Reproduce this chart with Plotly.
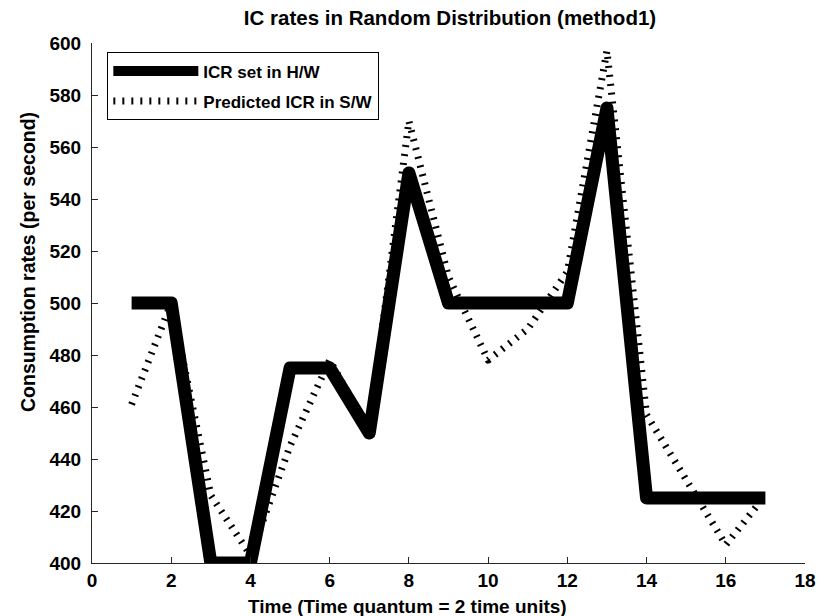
import plotly.graph_objects as go

# ---- data ----
time_q = [1, 2, 3, 4, 5, 6, 7, 8, 9, 10, 11, 12, 13, 14, 15, 16, 17]
icr_hw = [500, 500, 400, 400, 475, 475, 450, 550, 500, 500, 500, 500, 575, 425, 425, 425, 425]
icr_sw = [461, 500, 426, 403, 445, 478, 451, 570, 510, 478, 490, 512, 597, 457, 432, 407, 426]
x_ticks = [0, 2, 4, 6, 8, 10, 12, 14, 16, 18]
y_ticks = [400, 420, 440, 460, 480, 500, 520, 540, 560, 580, 600]

FONT = "Liberation Sans, Arial, Helvetica, sans-serif"

fig = go.Figure()
fig.add_trace(go.Scatter(
    x=time_q, y=icr_hw, mode="lines", name="ICR set in H/W",
    legendgroup="hw",
    line=dict(color="black", width=13),
))
fig.add_trace(go.Scatter(
    x=time_q, y=icr_sw, mode="lines", name="Predicted ICR in S/W",
    legendgroup="sw",
    line=dict(color="black", width=7, dash="2px,7px"),
))

axis_common = dict(
    showline=True, linecolor="#262626", linewidth=1,
    ticks="inside", ticklen=6, tickcolor="#262626", tickwidth=1,
    showgrid=False, zeroline=False, mirror=False, automargin=False,
    tickfont=dict(family=FONT, size=19, color="black", weight="bold"),
)

fig.update_layout(
    width=820, height=616,
    margin=dict(l=92, r=15, t=43, b=53, autoexpand=False),
    paper_bgcolor="white", plot_bgcolor="white",
    title=dict(
        text="IC rates in Random Distribution (method1)",
        x=(450 - 92) / 713, xanchor="center", xref="paper",
        y=1 - 18 / 616, yanchor="middle", yref="container",
        font=dict(family=FONT, size=20.5, color="black", weight="bold"),
    ),
    xaxis=dict(range=[0, 18], tickvals=x_ticks, **axis_common),
    yaxis=dict(range=[400, 600], tickvals=y_ticks, ticklabelstandoff=6, **axis_common),
    legend=dict(
        x=0.0215, y=0.982, xanchor="left", yanchor="top",
        bgcolor="white", bordercolor="black", borderwidth=1,
        font=dict(family=FONT, size=17, color="black", weight="bold"),
        itemwidth=85, tracegroupgap=5,
    ),
    showlegend=True,
    annotations=[
        dict(text="Time (Time quantum = 2 time units)", xref="paper", yref="paper",
             x=(407 - 92) / 713, y=-(606 - 563) / 520, xanchor="center", yanchor="middle",
             showarrow=False,
             font=dict(family=FONT, size=19, color="black", weight="bold")),
        dict(text="Consumption rates (per second)", xref="paper", yref="paper",
             x=-(92 - 28) / 713, y=(563 - 262) / 520, xanchor="center", yanchor="middle",
             textangle=-90, showarrow=False,
             font=dict(family=FONT, size=19.5, color="black", weight="bold")),
    ],
)

fig.write_html(
    "out.html",
    config={"displayModeBar": False},
    post_script=(
        "document.body.style.margin='0';"
        "document.querySelectorAll('.scatterlayer path.js-line').forEach("
        "function(p){p.style.strokeLinejoin='round';});"
    ),
)
